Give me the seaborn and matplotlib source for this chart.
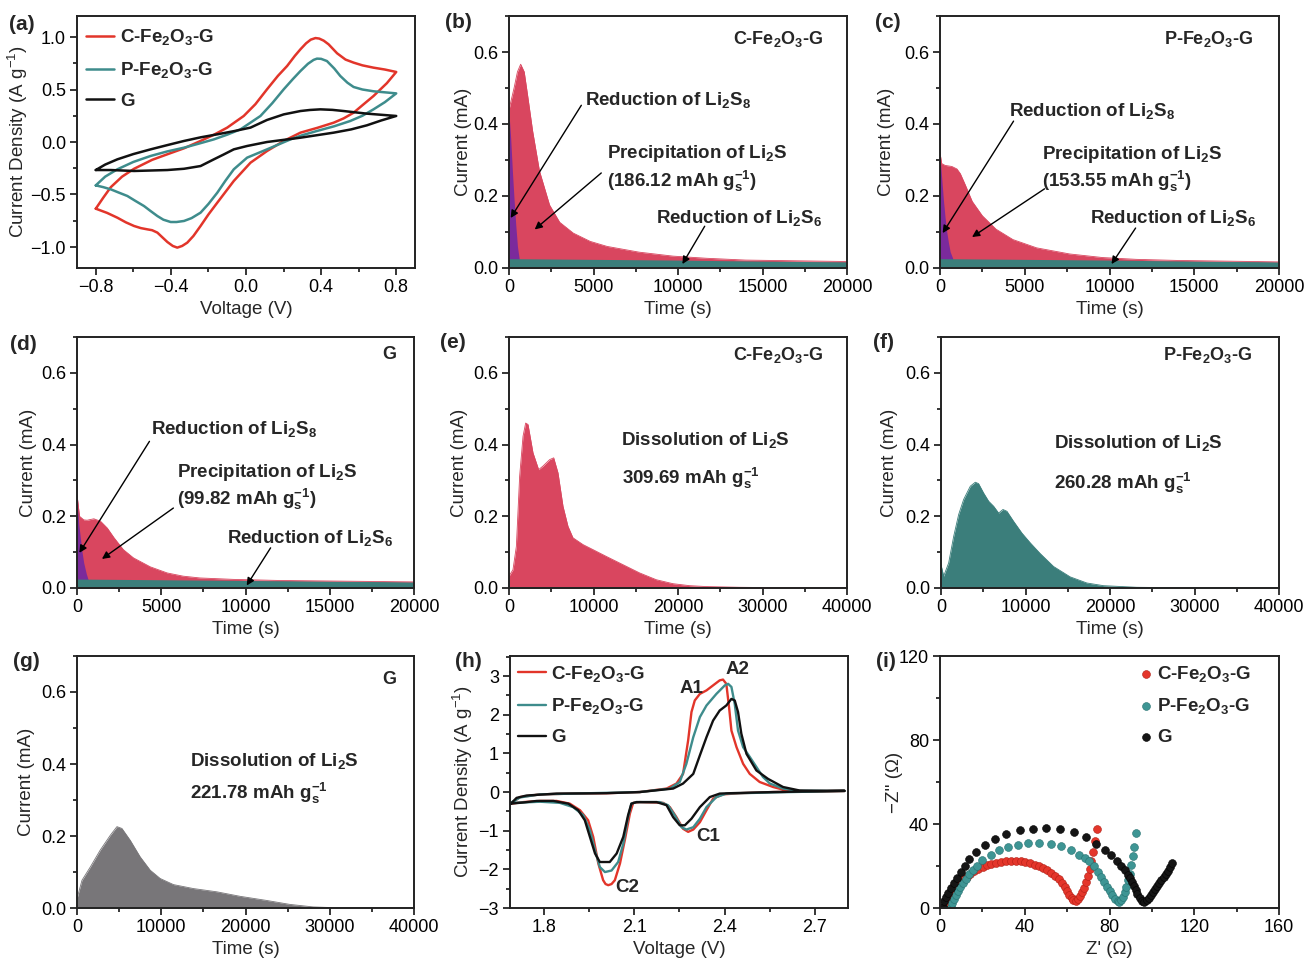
import numpy as np
import matplotlib
matplotlib.use('Agg')
import matplotlib.pyplot as plt
import seaborn as sns
from matplotlib.ticker import MultipleLocator

sns.set_style('ticks')
plt.rcParams['font.family'] = ['Liberation Sans', 'DejaVu Sans']
plt.rcParams['mathtext.fontset'] = 'custom'
plt.rcParams['mathtext.rm'] = 'Liberation Sans'
plt.rcParams['mathtext.it'] = 'Liberation Sans:italic'
plt.rcParams['mathtext.bf'] = 'Liberation Sans:bold'
plt.rcParams['mathtext.default'] = 'regular'

# ---------------- labels ----------------
samples = ['C-Fe$_2$O$_3$-G', 'P-Fe$_2$O$_3$-G', 'G']

# ---------------- (a) CV loops ----------------
a_V_C = [-0.8, -0.76, -0.72, -0.66, -0.596, -0.50, -0.419, -0.33, -0.242, -0.17, -0.100, -0.012, 0.05, 0.112, 0.17, 0.219, 0.26,
         0.290, 0.32, 0.345, 0.37, 0.39, 0.414, 0.44, 0.485, 0.53, 0.573, 0.62, 0.679, 0.74, 0.8,
         0.75, 0.679, 0.62, 0.573, 0.52, 0.467, 0.38, 0.290, 0.201, 0.112, 0.024, -0.065, -0.153, -0.20, -0.242, -0.28, -0.313,
         -0.34, -0.366, -0.39, -0.419, -0.45, -0.472, -0.50, -0.525, -0.56, -0.596, -0.64, -0.685, -0.74, -0.8]
a_J_C = [-0.635, -0.53, -0.43, -0.33, -0.255, -0.17, -0.117, -0.06, 0.010, 0.07, 0.137, 0.248, 0.36, 0.502, 0.63, 0.724, 0.82,
         0.883, 0.94, 0.975, 0.99, 0.985, 0.965, 0.93, 0.845, 0.785, 0.756, 0.73, 0.708, 0.69, 0.667,
         0.56, 0.438, 0.35, 0.279, 0.225, 0.184, 0.135, 0.089, 0.010, -0.086, -0.197, -0.371, -0.578, -0.69, -0.800, -0.895, -0.959,
         -0.99, -1.006, -0.99, -0.952, -0.90, -0.863, -0.84, -0.832, -0.82, -0.800, -0.765, -0.721, -0.675, -0.635]
a_V_P = [-0.8, -0.75, -0.685, -0.60, -0.508, -0.42, -0.330, -0.25, -0.171, -0.10, -0.029, 0.077, 0.14, 0.201, 0.250, 0.290, 0.33,
         0.36, 0.378, 0.40, 0.431, 0.47, 0.502, 0.54, 0.573, 0.62, 0.679, 0.74, 0.8,
         0.74, 0.679, 0.62, 0.555, 0.47, 0.378, 0.30, 0.237, 0.112, 0.006, -0.065, -0.11, -0.153, -0.20, -0.242, -0.29, -0.330, -0.37,
         -0.401, -0.44, -0.472, -0.51, -0.543, -0.59, -0.632, -0.68, -0.720, -0.76, -0.8]
a_J_P = [-0.413, -0.33, -0.260, -0.19, -0.133, -0.09, -0.054, -0.015, 0.025, 0.07, 0.121, 0.248, 0.37, 0.502, 0.60, 0.676, 0.745,
         0.782, 0.794, 0.792, 0.771, 0.70, 0.629, 0.565, 0.524, 0.50, 0.483, 0.473, 0.463,
         0.38, 0.311, 0.25, 0.200, 0.15, 0.105, 0.065, 0.025, -0.070, -0.149, -0.260, -0.37, -0.483, -0.59, -0.673, -0.725, -0.752, -0.762,
         -0.762, -0.74, -0.705, -0.655, -0.610, -0.56, -0.514, -0.48, -0.451, -0.43, -0.413]
a_V_G = [-0.8, -0.75, -0.685, -0.60, -0.508, -0.42, -0.330, -0.24, -0.153, -0.06, 0.024, 0.112, 0.201, 0.290, 0.340, 0.396, 0.46,
         0.520, 0.644, 0.8,
         0.72, 0.644, 0.56, 0.467, 0.290, 0.112, 0.006, -0.065, -0.12, -0.171, -0.242, -0.33, -0.419, -0.596, -0.720, -0.8]
a_J_G = [-0.267, -0.215, -0.165, -0.115, -0.070, -0.03, 0.010, 0.045, 0.073, 0.105, 0.137, 0.210, 0.263, 0.295, 0.305, 0.311, 0.306,
         0.295, 0.270, 0.248,
         0.205, 0.159, 0.12, 0.089, 0.041, 0.0, -0.038, -0.070, -0.12, -0.165, -0.229, -0.255, -0.267, -0.276, -0.267, -0.267]

# ---------------- (b)(c)(d) potentiostatic discharge ----------------
b_t_total = [0, 300, 500, 690, 900, 1100, 1400, 1800, 2400, 3000, 3800, 4800, 5800, 7700, 9700, 11700, 14000, 17000, 20000]
b_i_total = [0.44, 0.50, 0.545, 0.566, 0.545, 0.48, 0.38, 0.27, 0.175, 0.127, 0.097, 0.074, 0.060, 0.044, 0.033, 0.027, 0.022, 0.020, 0.018]
b_t_s8 = [0, 100, 200, 300, 400, 500, 600]
b_i_s8 = [0.43, 0.36, 0.27, 0.19, 0.12, 0.06, 0.027]
b_t_s6 = [0, 5000, 10000, 15000, 20000]
b_i_s6 = [0.026, 0.024, 0.022, 0.019, 0.017]

c_t_total = [0, 100, 300, 700, 1000, 1200, 1500, 1900, 2500, 3300, 4300, 5700, 7650, 9600, 11600, 14000, 17000, 20000]
c_i_total = [0.32, 0.29, 0.285, 0.282, 0.275, 0.262, 0.23, 0.185, 0.145, 0.108, 0.079, 0.056, 0.039, 0.029, 0.024, 0.021, 0.019, 0.017]
c_t_s8 = [0, 100, 200, 300, 400, 500, 600, 750]
c_i_s8 = [0.31, 0.25, 0.19, 0.14, 0.10, 0.07, 0.045, 0.027]
c_t_s6 = [0, 5000, 10000, 15000, 20000]
c_i_s6 = [0.026, 0.024, 0.022, 0.019, 0.017]

d_t_total = [0, 150, 400, 600, 1000, 1400, 1800, 2200, 2750, 3350, 4350, 5350, 6300, 7300, 9300, 12000, 16000, 20000]
d_i_total = [0.26, 0.20, 0.19, 0.189, 0.193, 0.186, 0.167, 0.14, 0.107, 0.084, 0.059, 0.042, 0.033, 0.028, 0.024, 0.021, 0.019, 0.017]
d_t_s8 = [0, 50, 100, 200, 300, 400, 550, 650]
d_i_s8 = [0.29, 0.22, 0.18, 0.14, 0.10, 0.07, 0.04, 0.025]
d_t_s6 = [0, 5000, 10000, 15000, 20000]
d_i_s6 = [0.025, 0.023, 0.021, 0.019, 0.017]

# ---------------- (e)(f)(g) dissolution ----------------
e_t = [0, 470, 870, 1260, 1660, 1970, 2250, 2840, 3510, 4020, 4810, 5290, 5800, 6390, 6980, 7570, 8760, 9940,
       11520, 13490, 15460, 17440, 19410, 21380, 23350, 27300, 31240, 40000]
e_i = [0.033, 0.051, 0.116, 0.312, 0.423, 0.46, 0.456, 0.377, 0.330, 0.340, 0.358, 0.363, 0.321, 0.228, 0.172, 0.140, 0.121, 0.107,
       0.088, 0.065, 0.042, 0.023, 0.012, 0.0065, 0.004, 0.002, 0.001, 0.0]
f_t = [0, 315, 906, 1500, 2090, 2680, 3470, 4060, 4450, 5040, 5640, 6230, 6820, 7330, 7800, 8590, 9580, 10560,
       11740, 13320, 15290, 17260, 19230, 23170, 27110, 40000]
f_i = [0.065, 0.033, 0.07, 0.144, 0.205, 0.247, 0.284, 0.295, 0.291, 0.265, 0.242, 0.228, 0.209, 0.219, 0.214, 0.186, 0.153, 0.126,
       0.096, 0.060, 0.031, 0.014, 0.0065, 0.002, 0.001, 0.0]
g_t = [0, 590, 1580, 2760, 3950, 4740, 5330, 6320, 7500, 8690, 9870, 11450, 13820, 16590, 19350, 22510, 25270, 28040, 30410, 40000]
g_i = [0.026, 0.077, 0.114, 0.161, 0.202, 0.226, 0.221, 0.188, 0.142, 0.105, 0.082, 0.065, 0.054, 0.045, 0.0325, 0.021, 0.010, 0.003, 0.001, 0.0]

# ---------------- (h) CV of Li-S cells ----------------
h_V_C = [1.689, 1.719, 1.786, 1.896, 2.007, 2.118, 2.207, 2.24, 2.262, 2.279, 2.29, 2.301, 2.318, 2.34, 2.362, 2.384, 2.395, 2.406, 2.415,
         2.423, 2.44, 2.462, 2.484, 2.517, 2.562, 2.606, 2.673, 2.80,
         2.562, 2.45, 2.395, 2.362, 2.34, 2.318, 2.296, 2.279, 2.262, 2.24, 2.218, 2.196, 2.118, 2.096, 2.085, 2.068, 2.052, 2.035,
         2.024, 2.013, 2.004, 1.996, 1.98, 1.963, 1.946, 1.919, 1.885, 1.841, 1.786, 1.73, 1.689]
h_J_C = [-0.30, -0.13, -0.06, -0.04, -0.03, 0.0, 0.09, 0.22, 0.47, 1.34, 2.07, 2.37, 2.54, 2.63, 2.76, 2.89, 2.91, 2.80, 2.20,
         1.59, 1.16, 0.73, 0.47, 0.26, 0.13, 0.04, 0.02, 0.03,
         0.0, -0.03, -0.06, -0.17, -0.47, -0.78, -0.97, -1.03, -0.95, -0.65, -0.39, -0.28, -0.26, -0.28, -0.56, -1.25, -1.85, -2.28,
         -2.38, -2.41, -2.38, -2.28, -1.85, -1.16, -0.73, -0.47, -0.30, -0.23, -0.23, -0.26, -0.30]
h_V_P = [1.689, 1.719, 1.786, 2.118, 2.218, 2.251, 2.273, 2.296, 2.318, 2.34, 2.373, 2.401, 2.412, 2.423, 2.434, 2.445, 2.462, 2.484,
         2.506, 2.528, 2.551, 2.595, 2.65, 2.80,
         2.562, 2.45, 2.406, 2.373, 2.34, 2.318, 2.296, 2.273, 2.257, 2.235, 2.212, 2.185, 2.107, 2.09, 2.079, 2.063, 2.046, 2.024,
         2.002, 1.985, 1.969, 1.952, 1.93, 1.896, 1.852, 1.786, 1.73, 1.689]
h_J_P = [-0.28, -0.14, -0.06, 0.0, 0.09, 0.26, 0.73, 1.42, 1.94, 2.24, 2.54, 2.76, 2.80, 2.72, 2.28, 1.59, 1.16, 0.91,
         0.65, 0.39, 0.22, 0.09, 0.03, 0.03,
         -0.01, -0.03, -0.04, -0.13, -0.39, -0.69, -0.91, -0.97, -0.91, -0.61, -0.34, -0.26, -0.26, -0.30, -0.65, -1.34, -1.81, -2.03,
         -2.07, -1.94, -1.51, -0.99, -0.60, -0.39, -0.28, -0.25, -0.27, -0.28]
h_V_G = [1.689, 1.708, 1.741, 1.841, 2.007, 2.118, 2.229, 2.262, 2.296, 2.318, 2.34, 2.362, 2.384, 2.406, 2.423, 2.434, 2.445, 2.456,
         2.473, 2.506, 2.545, 2.595, 2.65, 2.80,
         2.562, 2.418, 2.384, 2.351, 2.318, 2.29, 2.268, 2.251, 2.229, 2.207, 2.174, 2.107, 2.09, 2.079, 2.063, 2.041, 2.018, 1.985,
         1.969, 1.952, 1.935, 1.913, 1.88, 1.83, 1.775, 1.73, 1.689]
h_J_G = [-0.30, -0.15, -0.09, -0.04, -0.03, 0.0, 0.09, 0.22, 0.47, 0.95, 1.42, 1.85, 2.11, 2.24, 2.41, 2.37, 2.07, 1.51,
         0.99, 0.56, 0.34, 0.13, 0.04, 0.03,
         0.0, -0.03, -0.04, -0.13, -0.39, -0.69, -0.86, -0.86, -0.65, -0.34, -0.26, -0.26, -0.30, -0.60, -1.16, -1.59, -1.81, -1.81,
         -1.59, -1.16, -0.73, -0.47, -0.30, -0.23, -0.23, -0.27, -0.30]

# ---------------- (i) Nyquist ----------------
i_re_C = [2.7, 3.5, 4.2, 5.3, 6.6, 7.9, 9.3, 10.9, 12.6, 14.3, 16.2, 18.1, 20.2, 22.2, 24.3, 26.4, 28.7, 31.0, 33.4, 35.7, 38.1,
          40.3, 42.5, 44.7, 46.8, 48.8, 50.7, 52.6, 54.3, 56.0, 57.5, 58.8, 60.0, 61.1, 62.1, 63.0, 64.0, 65.0, 66.0, 67.0,
          68.0, 69.0, 69.9, 70.7, 71.5, 72.3, 73.2, 74.2]
i_im_C = [0.5, 2.6, 4.5, 6.4, 8.4, 10.3, 12.0, 13.6, 15.0, 16.3, 17.6, 18.7, 19.5, 20.3, 20.9, 21.6, 21.9, 22.2, 22.4, 22.2, 22.2,
          21.8, 21.3, 20.7, 20.0, 19.1, 18.0, 16.7, 15.3, 13.6, 11.8, 9.9, 8.0, 6.2, 4.7, 3.6, 3.3, 4.2, 5.6, 7.4,
          9.6, 12.2, 15.2, 18.6, 22.4, 26.8, 31.8, 37.5]
i_re_P = [5.3, 5.8, 6.5, 7.4, 8.4, 9.5, 10.8, 12.2, 13.7, 15.4, 17.3, 20.0, 23.9, 27.9, 32.1, 36.9, 41.6, 46.8, 52.3, 57.2, 61.9,
          65.8, 68.6, 70.3, 72.6, 74.4, 76.1, 77.6, 79.0, 80.2, 81.4, 82.6, 83.8, 84.6, 85.5, 86.3, 87.1, 87.9, 88.7, 89.5,
          90.2, 91.0, 91.7, 92.3]
i_im_P = [0.4, 2.2, 4.2, 6.1, 8.0, 9.9, 12.0, 14.0, 16.0, 18.0, 20.2, 23.0, 25.4, 27.5, 29.1, 30.2, 31.0, 31.1, 30.5, 29.4, 27.8,
          25.4, 23.6, 22.3, 19.8, 17.3, 14.8, 12.4, 10.2, 8.1, 6.2, 4.5, 3.3, 3.0, 3.6, 5.3, 7.6, 10.0, 13.2, 16.4,
          20.3, 24.8, 29.0, 35.9]
i_re_G = [1.3, 1.9, 2.7, 3.8, 5.0, 6.6, 8.2, 9.9, 11.6, 13.7, 16.8, 21.3, 25.8, 31.3, 37.6, 43.9, 50.2, 56.7, 63.2, 69.0, 73.4,
          77.7, 80.8, 83.5, 85.5, 87.1, 88.7, 89.8, 90.7, 91.5, 92.3, 93.1, 94.2, 95.3, 96.5, 97.5, 98.5, 99.5, 100.5, 101.5,
          102.5, 103.5, 104.5, 105.5, 106.5, 107.5, 108.5, 109.6]
i_im_G = [0.5, 3.2, 5.2, 7.3, 9.5, 11.9, 14.3, 17.0, 20.0, 23.3, 26.8, 29.9, 33.0, 35.4, 37.0, 37.8, 38.1, 37.5, 36.2, 33.8, 30.6,
          27.8, 25.1, 22.2, 19.9, 17.9, 15.9, 14.3, 12.4, 10.5, 8.4, 6.5, 4.8, 3.4, 2.9, 3.8, 5.0, 6.3, 7.6, 9.0,
          10.4, 11.8, 13.3, 14.8, 16.3, 17.8, 19.5, 21.4]

# ---------------- colours ----------------
RED = '#E2352A'
TEAL = '#3E8C8C'
BLACK = '#111111'
FILL_RED = '#D9465F'
FILL_PURPLE = '#7B2A9C'
FILL_TEAL = '#3B7E7B'
FILL_GRAY = '#787679'

W, H = 1306, 963
fig = plt.figure(figsize=(W / 100, H / 100), dpi=100)

TXT = 13.5


def add_ax(l, t, r, b):
    return fig.add_axes([l / W, 1 - b / H, (r - l) / W, (b - t) / H])


def style(ax, xlim, ylim, xmaj, xmin, ymaj, ymin, xlabel, ylabel, ylx):
    ax.set_xlim(*xlim)
    ax.set_ylim(*ylim)
    ax.xaxis.set_major_locator(MultipleLocator(xmaj))
    ax.xaxis.set_minor_locator(MultipleLocator(xmin))
    ax.yaxis.set_major_locator(MultipleLocator(ymaj))
    ax.yaxis.set_minor_locator(MultipleLocator(ymin))
    ax.tick_params(which='both', direction='out', top=False, right=False, width=1.1, colors='black')
    ax.tick_params(which='major', length=5, labelsize=13, pad=3)
    ax.tick_params(which='minor', length=3)
    for s in ax.spines.values():
        s.set_visible(True)
        s.set_linewidth(1.4)
        s.set_color('#222222')
    ax.set_xlabel(xlabel, fontsize=13.5)
    ax.set_ylabel(ylabel, fontsize=13.5)
    ax.xaxis.set_label_coords(0.5, -0.13)
    ax.yaxis.set_label_coords(ylx, 0.5)
    if ax.get_legend() is not None:
        ax.get_legend().remove()


def btext(ax, x, y, s, ha='left', size=TXT):
    ax.text(x, y, s, fontsize=size, fontweight='bold', ha=ha, va='center')


def arrow(ax, tail, head):
    ax.annotate('', xy=head, xytext=tail,
                arrowprops=dict(arrowstyle='-|>', color='black', lw=1.0, mutation_scale=11,
                                shrinkA=0, shrinkB=0))


LEG = dict(loc='upper left', frameon=False, borderpad=0, borderaxespad=0, labelspacing=0.68,
           prop={'weight': 'bold', 'size': 13.5})

# ---------- (a) ----------
ax = add_ax(77, 16, 415, 268)
for V, J, c, lab in [(a_V_C, a_J_C, RED, samples[0]), (a_V_P, a_J_P, TEAL, samples[1]), (a_V_G, a_J_G, BLACK, samples[2])]:
    sns.lineplot(x=np.array(V), y=np.array(J), sort=False, estimator=None, color=c, lw=1.8, ax=ax, label=lab)
handles, labels = ax.get_legend_handles_labels()
style(ax, (-0.9, 0.9), (-1.2, 1.2), 0.4, 0.2, 0.5, 0.25, 'Voltage (V)', 'Current Density (A g$^{-1}$)', -0.14)
ax.legend(handles, labels, bbox_to_anchor=(0.027, 0.955), handlelength=1.5, handletextpad=0.3, **LEG)


# ---------- (b)(c)(d) ----------
def discharge(box, tt, it, t8, i8, t6, i6, name, texts, ylx):
    ax = add_ax(*box)
    ax.fill_between(tt, 0, it, color=FILL_RED, lw=0)
    sns.lineplot(x=np.array(tt), y=np.array(it), sort=False, estimator=None, color=FILL_RED, lw=0.6, ax=ax)
    ax.fill_between(t8, 0, i8, color=FILL_PURPLE, lw=0)
    ax.fill_between(t6, 0, i6, color=FILL_TEAL, lw=0)
    style(ax, (0, 20000), (0, 0.7), 5000, 2500, 0.2, 0.1, 'Time (s)', 'Current (mA)', ylx)
    btext(ax, texts['name'][0], texts['name'][1], name, ha='right', size=13)
    btext(ax, *texts['s8'], 'Reduction of Li$_2$S$_8$')
    btext(ax, *texts['p1'], 'Precipitation of Li$_2$S')
    btext(ax, *texts['p2'][:2], texts['p2'][2])
    btext(ax, *texts['s6'], 'Reduction of Li$_2$S$_6$')
    for tail, head in texts['arrows']:
        arrow(ax, tail, head)
    return ax


discharge((509, 16, 847, 268), b_t_total, b_i_total, b_t_s8, b_i_s8, b_t_s6, b_i_s6, samples[0],
          {'name': (18580, 0.637), 's8': (4480, 0.468), 'p1': (5820, 0.318),
           'p2': (5820, 0.241, '(186.12 mAh g$_s^{-1}$)'), 's6': (8680, 0.139),
           'arrows': [((4280, 0.452), (99, 0.139)), ((5460, 0.264), (1520, 0.107)), ((11580, 0.116), (10260, 0.011))]},
          -0.109)
discharge((940, 16, 1279, 268), c_t_total, c_i_total, c_t_s8, c_i_s8, c_t_s6, c_i_s6, samples[1],
          {'name': (18460, 0.637), 's8': (4100, 0.436), 'p1': (6035, 0.315),
           'p2': (6035, 0.241, '(153.55 mAh g$_s^{-1}$)'), 's6': (8860, 0.139),
           'arrows': [((4340, 0.408), (158, 0.097)), ((6170, 0.220), (1890, 0.086)), ((11540, 0.111), (10120, 0.011))]},
          -0.133)
discharge((77, 337, 414, 588), d_t_total, d_i_total, d_t_s8, d_i_s8, d_t_s6, d_i_s6, samples[2],
          {'name': (18950, 0.651), 's8': (4380, 0.444), 'p1': (5960, 0.321),
           'p2': (5960, 0.247, '(99.82 mAh g$_s^{-1}$)'), 's6': (8880, 0.140),
           'arrows': [((4300, 0.409), (138, 0.098)), ((5720, 0.223), (1480, 0.081)), ((11490, 0.112), (10070, 0.007))]},
          -0.119)


# ---------- (e)(f)(g) ----------
def dissolution(box, t, i, color, name, pos_name, pos1, pos2, cap, ylx):
    ax = add_ax(*box)
    ax.fill_between(t, 0, i, color=color, lw=0)
    sns.lineplot(x=np.array(t), y=np.array(i), sort=False, estimator=None, color=color, lw=0.6, ax=ax)
    style(ax, (0, 40000), (0, 0.7), 10000, 5000, 0.2, 0.1, 'Time (s)', 'Current (mA)', ylx)
    btext(ax, pos_name[0], pos_name[1], name, ha='right', size=13)
    btext(ax, pos1[0], pos1[1], 'Dissolution of Li$_2$S')
    btext(ax, pos2[0], pos2[1], cap)
    return ax


dissolution((509, 337, 847, 588), e_t, e_i, FILL_RED, samples[0], (37160, 0.651), (13290, 0.412), (13410, 0.305),
            '309.69 mAh g$_s^{-1}$', -0.121)
dissolution((941, 337, 1279, 588), f_t, f_i, FILL_TEAL, samples[1], (36890, 0.651), (13320, 0.405), (13320, 0.291),
            '260.28 mAh g$_s^{-1}$', -0.127)
dissolution((77, 656, 414, 908), g_t, g_i, FILL_GRAY, samples[2], (37910, 0.634), (13430, 0.409), (13430, 0.317),
            '221.78 mAh g$_s^{-1}$', -0.125)

# ---------- (h) ----------
ax = add_ax(510, 656, 848, 908)
for V, J, c, lab in [(h_V_C, h_J_C, RED, samples[0]), (h_V_P, h_J_P, TEAL, samples[1]), (h_V_G, h_J_G, BLACK, samples[2])]:
    sns.lineplot(x=np.array(V), y=np.array(J), sort=False, estimator=None, color=c, lw=1.7, ax=ax, label=lab)
handles, labels = ax.get_legend_handles_labels()
style(ax, (1.686, 2.811), (-3, 3.52), 0.3, 0.15, 1, 0.5, 'Voltage (V)', 'Current Density (A g$^{-1}$)', -0.104)
ax.legend(handles, labels, bbox_to_anchor=(0.024, 0.97), handlelength=1.5, handletextpad=0.25, **LEG)
btext(ax, 2.329, 2.67, 'A1', ha='right', size=13.5)
btext(ax, 2.404, 3.16, 'A2', size=13.5)
btext(ax, 2.307, -1.16, 'C1', size=13.5)
btext(ax, 2.037, -2.46, 'C2', size=13.5)

# ---------- (i) ----------
ax = add_ax(940, 656, 1279, 908)
for x, y, c, ec, lab in [(i_re_C, i_im_C, '#E4362B', '#B01E14', samples[0]),
                         (i_re_P, i_im_P, '#3E9594', '#23706F', samples[1]),
                         (i_re_G, i_im_G, '#151515', '#000000', samples[2])]:
    sns.scatterplot(x=np.array(x), y=np.array(y), color=c, edgecolor=ec, linewidth=0.4, s=32, ax=ax, label=lab)
handles, labels = ax.get_legend_handles_labels()
style(ax, (0, 160), (0, 120), 40, 20, 40, 20, "Z' (\u03a9)", "\u2212Z'' (\u03a9)", -0.109)
ax.legend(handles, labels, bbox_to_anchor=(0.59, 0.97), handlelength=0.6, handletextpad=0.3, **LEG)

# ---------- panel letters ----------
letters = ['(a)', '(b)', '(c)', '(d)', '(e)', '(f)', '(g)', '(h)', '(i)']
letter_px = [(9, 24), (445, 23), (875, 23), (10, 344), (440, 343), (873, 343), (13, 661), (455, 661), (876, 661)]
for s, (x, y) in zip(letters, letter_px):
    fig.text(x / W, 1 - y / H, s, fontsize=15, fontweight='bold', ha='left', va='center')

fig.savefig('out.png', dpi=100)
